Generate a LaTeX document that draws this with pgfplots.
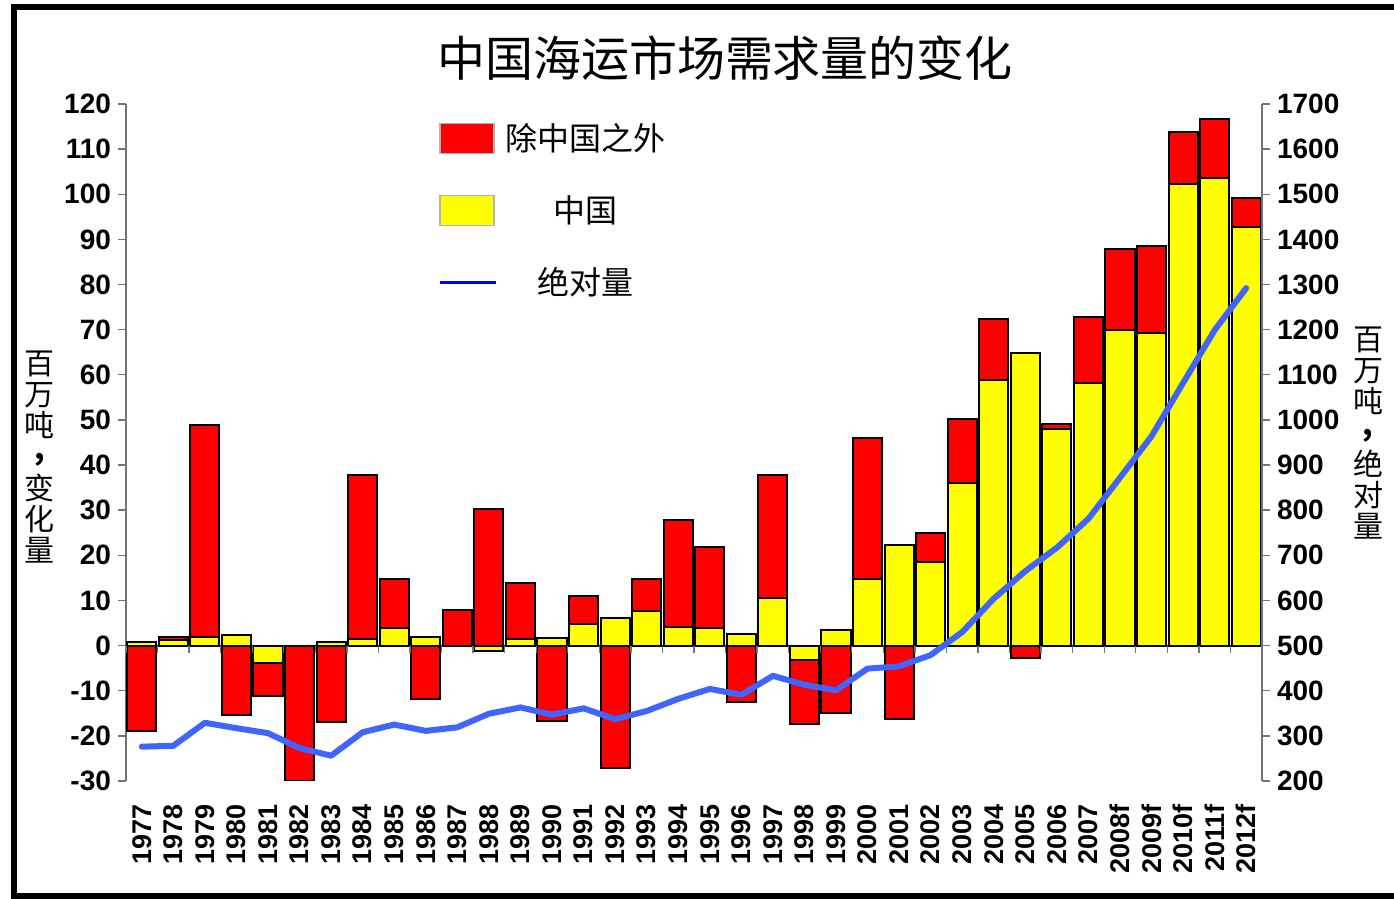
\documentclass[border=0pt]{standalone}
\usepackage{fontspec}
\setmainfont{Liberation Sans}
\newfontfamily\cjk{Noto Sans CJK SC}
\usepackage{pgfplots}
\usepackage{pgfplotstable}
\pgfplotsset{compat=1.18}
\definecolor{other}{HTML}{FF0000}
\definecolor{china}{HTML}{FFFF00}
\definecolor{absline}{HTML}{3F64FF}

% china = China's change; redend = outer edge of the red (rest of world) segment
\pgfplotstableread{
x  year  china  redend  abs
0  1977  0.8   -19.0   276
1  1978  1.2     1.9   278
2  1979  1.9    48.9   329
3  1980  2.3   -15.3   317
4  1981 -3.9   -11.1   306
5  1982  0.0   -30.0   273
6  1983  0.8   -17.0   256
7  1984  1.5    37.8   308
8  1985  3.9    14.8   325
9  1986  1.9   -11.8   311
10 1987  0.0     7.9   319
11 1988 -1.2    30.3   349
12 1989  1.5    13.9   363
13 1990  1.7   -16.8   347
14 1991  4.8    10.9   361
15 1992  6.1   -27.1   337
16 1993  7.6    14.8   355
17 1994  4.1    27.8   382
18 1995  3.8    21.9   404
19 1996  2.5   -12.6   391
20 1997 10.6    37.8   433
21 1998 -3.2   -17.3   413
22 1999  3.5   -15.0   401
23 2000 14.8    46.1   449
24 2001 22.2   -16.3   454
25 2002 18.5    24.9   479
26 2003 36.0    50.1   530
27 2004 58.9    72.3   604
28 2005 64.9    -2.7   665
29 2006 47.9    49.2   717
30 2007 58.2    72.8   781
31 2008f 69.9   87.9   872
32 2009f 69.3   88.6   964
33 2010f 102.2 113.9  1082
34 2011f 103.6 116.6  1199
35 2012f 92.8   99.2  1292
}\demand

\pgfplotsset{
  frame/.style={
    at={(63pt,59pt)}, anchor=south west,
    scale only axis, width=568pt, height=338.5pt,
    xmin=-0.5, xmax=35.5,
    tick align=outside, major tick length=4pt,
    y axis line style={-, draw=black!55, line width=0.7pt},
    ytick style={draw=black!55, line width=0.7pt},
    yticklabel style={font=\fontsize{14}{14}\selectfont\bfseries},
    /pgf/number format/assume math mode=true,
    /pgf/number format/1000 sep={},
    scaled y ticks=false,
  },
  patch/.style={
    ybar, bar width=0.92, bar shift=0pt, draw=black, line width=1pt,
    legend image code/.code={\draw[##1, draw=gray!60, line width=0.8pt] (0pt,-7.5pt) rectangle (27pt,7.5pt);},
  },
  lineleg/.style={
    legend image code/.code={\draw[blue, line width=1.5pt] (0pt,0pt) -- (28pt,0pt);},
  },
}

\begin{document}
\begin{tikzpicture}
\path[use as bounding box] (0,0) rectangle (697pt,449.5pt);
\draw[line width=3.2pt] (697pt,446pt) -- (7pt,446pt) -- (7pt,1.5pt) -- (697pt,1.5pt);

\begin{axis}[
  frame,
  ymin=-30, ymax=120, ytick distance=10,
  axis y line*=left, axis x line*=bottom,
  x axis line style={draw=none},
  xtick={0,...,35}, xticklabels from table={\demand}{year},
  xtick style={draw=none},
  xticklabel style={rotate=90, anchor=east, xshift=-4pt,
    font=\fontsize{13.5}{13.5}\selectfont\bfseries},
  legend style={at={(0.2746,0.978)}, anchor=north west, draw=none, fill=none,
    inner sep=0pt, row sep=17pt, font=\cjk\fontsize{16}{16}\selectfont},
  legend cell align=left,
]
  \addplot[patch, fill=other] table[x=x, y=redend]{\demand};
  \addplot[patch, fill=china] table[x=x, y=china]{\demand};
  \addlegendimage{lineleg}
  \draw[black, line width=1pt] (axis cs:-0.5,0) -- (axis cs:35.5,0);
  \foreach \k in {0,...,36} {
    \edef\temp{\noexpand\draw[black!55, line width=0.7pt]
      (axis cs:\k-0.5,0) -- ([yshift=-3.5pt]axis cs:\k-0.5,0);}
    \temp
  }
  \legend{\makebox[84pt]{除中国之外}, \makebox[84pt]{中国}, \makebox[84pt]{绝对量}}
\end{axis}

\begin{axis}[
  frame,
  ymin=200, ymax=1700, ytick distance=100,
  axis y line*=right, axis x line=none,
]
  \addplot[absline, line width=3pt, line join=round, line cap=round]
    table[x=x, y=abs]{\demand};
\end{axis}

\node[font=\cjk\fontsize{24}{24}\selectfont] at (362.5pt,420.5pt) {中国海运市场需求量的变化};
\node[font=\cjk\fontsize{15}{15.6}\selectfont, align=center] at (20pt,221pt)
  {百\\万\\吨\\\raisebox{4pt}{\bfseries ,}\\变\\化\\量};
\node[font=\cjk\fontsize{15}{15.6}\selectfont, align=center] at (684pt,233pt)
  {百\\万\\吨\\\raisebox{4pt}{\bfseries ,}\\绝\\对\\量};
\end{tikzpicture}
\end{document}
